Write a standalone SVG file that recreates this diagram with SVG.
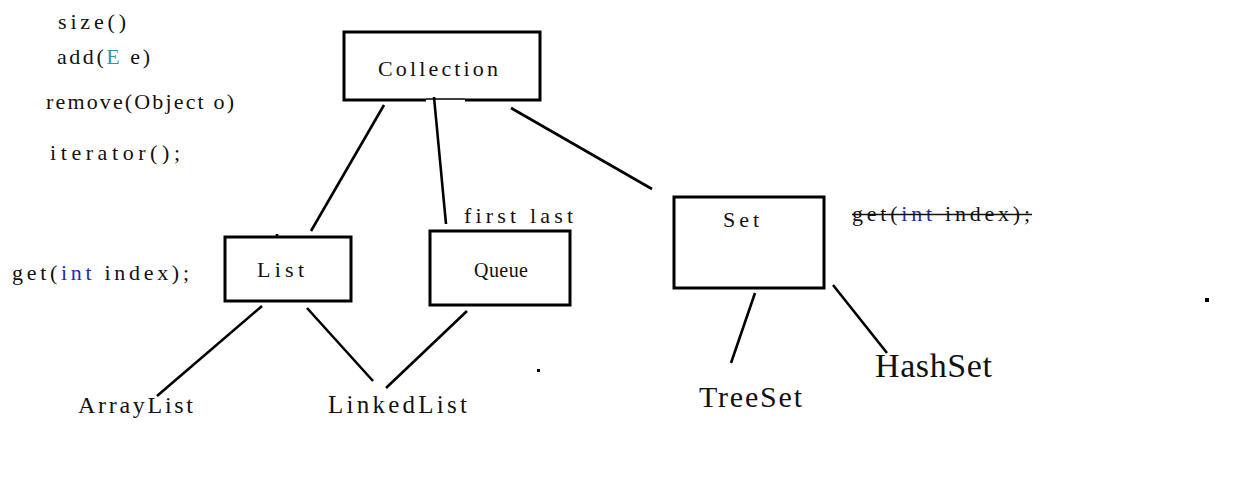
<svg xmlns="http://www.w3.org/2000/svg" width="1242" height="503" viewBox="0 0 1242 503">
<style>
.t{font-family:"Liberation Serif","DejaVu Serif",serif;fill:#111;}
.n{font-size:22px;}
.box{fill:none;stroke:#000;stroke-width:3;}
.ln{stroke:#000;stroke-width:2.6;fill:none;}
.kw{fill:#2a2aa8;}
.ty{fill:#2b9bb0;}
</style>
<rect width="1242" height="503" fill="#fff"/>
<g id="notes">
<text class="t n" x="58" y="29" textLength="68" lengthAdjust="spacing">size()</text>
<text class="t n" x="57" y="64" textLength="93" lengthAdjust="spacing">add(<tspan class="ty">E</tspan> e)</text>
<text class="t n" x="46" y="109" textLength="188" lengthAdjust="spacing">remove(Object o)</text>
<text class="t n" x="50" y="160" textLength="130" lengthAdjust="spacing">iterator();</text>
<text class="t n" x="12" y="280" textLength="177" lengthAdjust="spacing">get(<tspan class="kw">int</tspan> index);</text>
<text class="t n" x="464" y="223" textLength="109" lengthAdjust="spacing">first last</text>
<text class="t n" x="852" y="221" textLength="178" lengthAdjust="spacing">get(<tspan class="kw">int</tspan> index);</text>
<line x1="852" y1="214.5" x2="1032" y2="214.5" stroke="#111" stroke-width="1.3"/>
</g>
<g id="collection">
<path class="box" d="M426,100 H344 V32 H540 V100 H465"/>
<line x1="426" y1="99" x2="465" y2="99" stroke="#000" stroke-width="1.5"/>
<text class="t n" x="378" y="76" textLength="120" lengthAdjust="spacing">Collection</text>
</g>
<g id="list">
<rect class="box" x="225" y="237" width="126" height="64"/>
<text class="t n" x="257" y="277" textLength="47" lengthAdjust="spacing">List</text>
</g>
<g id="queue">
<rect class="box" x="430" y="231" width="140" height="74"/>
<text class="t" x="474" y="277" font-size="20" textLength="54" lengthAdjust="spacing">Queue</text>
</g>
<g id="set">
<rect class="box" x="674" y="197" width="150" height="91"/>
<text class="t n" x="723" y="227" textLength="36" lengthAdjust="spacing">Set</text>
</g>
<g id="arraylist">
<text class="t" x="78" y="413" font-size="24" textLength="115" lengthAdjust="spacing">ArrayList</text>
</g>
<g id="linkedlist">
<text class="t" x="328" y="413" font-size="25" textLength="139" lengthAdjust="spacing">LinkedList</text>
</g>
<g id="treeset">
<text class="t" x="699" y="407" font-size="30" textLength="103" lengthAdjust="spacing">TreeSet</text>
</g>
<g id="hashset">
<text class="t" x="875" y="377" font-size="34" textLength="117" lengthAdjust="spacing">HashSet</text>
</g>
<g id="connectors">
<line class="ln" x1="384" y1="105" x2="311" y2="231"/>
<line class="ln" x1="434" y1="97" x2="446" y2="224"/>
<line class="ln" x1="511" y1="108" x2="652" y2="189"/>
<line class="ln" x1="262" y1="306" x2="157" y2="396"/>
<line class="ln" x1="307" y1="308" x2="373" y2="381"/>
<line class="ln" x1="467" y1="311" x2="386" y2="388"/>
<line class="ln" x1="755" y1="293" x2="731" y2="363"/>
<line class="ln" x1="833" y1="285" x2="887" y2="353"/>
<line class="ln" x1="277" y1="234" x2="277" y2="237"/>
</g>
<g id="dots">
<rect x="537" y="369" width="3" height="3" fill="#000"/>
<rect x="1205" y="298" width="4" height="4" fill="#000"/>
</g>
</svg>
